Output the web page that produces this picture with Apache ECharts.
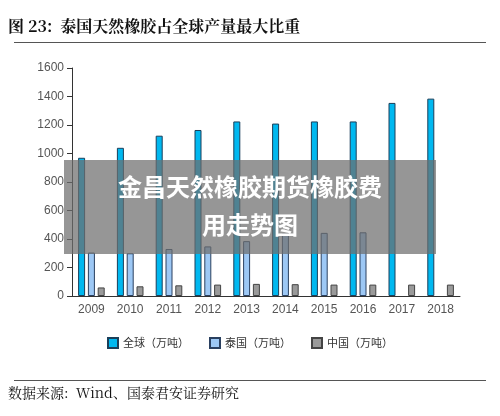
<!DOCTYPE html><html><head><meta charset="utf-8"><script src="https://cdn.jsdelivr.net/npm/echarts@6/dist/echarts.min.js"></script>
<style>body{margin:0;background:#fff}#c{width:500px;height:416px}</style></head><body><div id="c"></div><script>
const years=['2009','2010','2011','2012','2013','2014','2015','2016','2017','2018'];
const globalVals=[970,1040,1125,1165,1225,1210,1225,1225,1355,1385];
const thaiVals=[305,300,330,348,385,440,443,447,null,null];
const chinaVals=[60,68,75,80,85,83,80,80,80,80];
const c=echarts.init(document.getElementById('c'));
const f='"Noto Sans CJK SC",serif';
c.setOption({animation:false,
graphic:[
{type:'text',left:8,top:18,style:{text:'图 23:  泰国天然橡胶占全球产量最大比重',font:'bold 16px "Noto Serif CJK SC","Noto Sans CJK SC"',fill:'#111'}},
{type:'rect',shape:{x:14,y:42,width:472,height:1},style:{fill:'#555'}},
{type:'rect',shape:{x:64,y:160,width:372,height:94},style:{fill:'rgba(110,110,110,0.72)'},z:100},
{type:'text',x:250,y:168,z:101,style:{text:'金昌天然橡胶期货橡胶费\n用走势图',font:'bold 24px '+f,fill:'#fff',textAlign:'center',lineHeight:38}},
{type:'rect',shape:{x:14,y:380,width:472,height:1},style:{fill:'#555'}},
{type:'text',left:8,top:386,style:{text:'数据来源:  Wind、国泰君安证券研究',font:'14px "Noto Serif CJK SC","Noto Sans CJK SC"',fill:'#111'}}
],
legend:{bottom:62,icon:'rect',itemWidth:10,itemHeight:10,itemGap:20,textStyle:{fontFamily:f,fontSize:11,color:'#333'},data:['全球（万吨）','泰国（万吨）','中国（万吨）']},
grid:{left:72,right:40,top:68,bottom:120},
xAxis:{type:'category',data:years,axisLine:{lineStyle:{color:'#333'}},axisTick:{lineStyle:{color:'#333'}},axisLabel:{color:'#555',fontSize:12}},
yAxis:{type:'value',min:0,max:1600,interval:200,splitLine:{show:false},axisLine:{show:true,lineStyle:{color:'#333'}},axisTick:{show:true},axisLabel:{color:'#555',fontSize:12,formatter:v=>String(v)}},
series:[
{name:'全球（万吨）',type:'bar',data:globalVals,barWidth:7,barGap:'40%',itemStyle:{color:'#00B8F0',borderColor:'#1a3f5a',borderWidth:1}},
{name:'泰国（万吨）',type:'bar',data:thaiVals,barWidth:7,itemStyle:{color:'#9DC8F5',borderColor:'#2a4060',borderWidth:1}},
{name:'中国（万吨）',type:'bar',data:chinaVals,barWidth:7,itemStyle:{color:'#9a9a9a',borderColor:'#444',borderWidth:1}}
]});
</script></body></html>
